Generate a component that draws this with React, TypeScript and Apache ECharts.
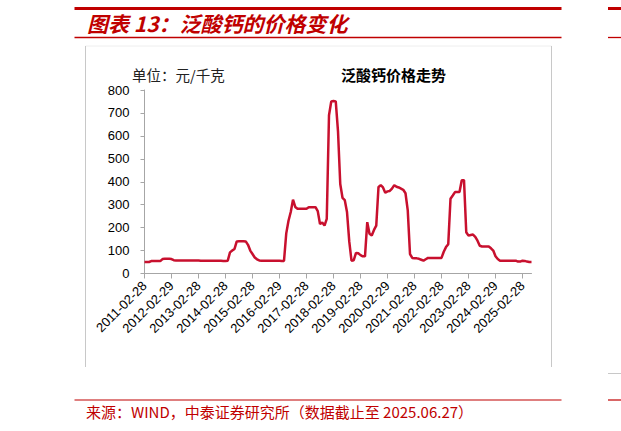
import { useEffect, useRef } from 'react';
import * as echarts from 'echarts';

// 泛酸钙价格（元/千克），月度，2011-02 至 2025-06
const price2011 = [50, 50, 50, 54, 54, 54, 54, 54, 63, 64, 64];
const price2012 = [64, 63, 58, 57, 57, 57, 57, 57, 57, 57, 57, 57];
const price2013 = [57, 57, 56, 56, 56, 56, 56, 56, 56, 56, 56, 56];
const price2014 = [55, 55, 56, 92, 100, 107, 140, 141, 141, 141, 140, 125];
const price2015 = [100, 85, 70, 62, 57, 56, 56, 56, 56, 56, 56, 56];
const price2016 = [56, 56, 55, 55, 175, 230, 268, 322, 290, 282, 282, 282];
const price2017 = [282, 282, 289, 289, 289, 289, 272, 216, 222, 209, 238, 690];
const price2018 = [750, 752, 750, 620, 390, 330, 320, 268, 140, 56, 58, 90];
const price2019 = [88, 80, 75, 75, 224, 173, 166, 190, 209, 377, 385, 375];
const price2020 = [352, 358, 360, 370, 385, 378, 375, 370, 365, 350, 275, 85];
const price2021 = [68, 67, 66, 64, 60, 56, 62, 68, 68, 68, 68, 68];
const price2022 = [68, 68, 95, 115, 128, 326, 340, 355, 355, 355, 407, 407];
const price2023 = [180, 165, 168, 170, 160, 143, 121, 118, 118, 118, 118, 110];
const price2024 = [100, 75, 63, 56, 56, 56, 56, 56, 56, 56, 56, 52];
const price2025 = [52, 56, 55, 52, 50, 50];

const tickLabels = [
  '2011-02-28', '2012-02-29', '2013-02-28', '2014-02-28', '2015-02-28',
  '2016-02-29', '2017-02-28', '2018-02-28', '2019-02-28', '2020-02-29',
  '2021-02-28', '2022-02-28', '2023-02-28', '2024-02-29', '2025-02-28',
];

const yTicks = [0, 100, 200, 300, 400, 500, 600, 700, 800];

const prices = [
  ...price2011, ...price2012, ...price2013, ...price2014, ...price2015,
  ...price2016, ...price2017, ...price2018, ...price2019, ...price2020,
  ...price2021, ...price2022, ...price2023, ...price2024, ...price2025,
];

// one category per month, starting 2011-02
const months = prices.map((_, i) => {
  const total = 2011 * 12 + 1 + i;
  const y = Math.floor(total / 12);
  const m = (total % 12) + 1;
  return `${y}-${String(m).padStart(2, '0')}`;
});

const RED = '#c00000';
const CJK = '"Noto Sans CJK SC", sans-serif';

export default function App() {
  const chartRef = useRef(null);

  useEffect(() => {
    const chart = echarts.init(chartRef.current, null, { renderer: 'svg' });
    const option = {
      animation: false,
      backgroundColor: '#fff',
      grid: { left: 144.5, right: 89.5, top: 90, bottom: 157.5 },
      xAxis: {
        type: 'category',
        data: months,
        boundaryGap: false,
        axisLine: { lineStyle: { color: '#a6a6a6', width: 1 } },
        axisTick: { interval: 11, length: 5, lineStyle: { color: '#a6a6a6' } },
        axisLabel: {
          interval: 11,
          rotate: 45,
          margin: 10,
          fontSize: 13,
          color: '#000',
          fontFamily: '"Liberation Sans", Arial',
          formatter: (_: string, idx: number) => tickLabels[idx / 12] ?? '',
        },
        splitLine: { show: false },
      },
      yAxis: {
        type: 'value',
        min: yTicks[0],
        max: yTicks[yTicks.length - 1],
        interval: 100,
        axisLine: { show: true, lineStyle: { color: '#a6a6a6', width: 1 } },
        axisTick: { show: true, length: 4, lineStyle: { color: '#a6a6a6' } },
        axisLabel: {
          margin: 15,
          fontSize: 13,
          color: '#000',
          fontFamily: '"Liberation Sans", Arial',
        },
        splitLine: { show: false },
      },
      series: [
        {
          name: '泛酸钙',
          type: 'line',
          data: prices,
          symbol: 'none',
          lineStyle: { color: '#c8102e', width: 2.5 },
        },
      ],
      graphic: [
        { type: 'rect', shape: { x: 74.5, y: 7, width: 487, height: 3 }, style: { fill: RED } },
        { type: 'rect', shape: { x: 608, y: 7, width: 13, height: 3 }, style: { fill: RED } },
        {
          type: 'text',
          x: 87,
          y: 23,
          style: {
            text: '图表 13：泛酸钙的价格变化',
            fill: RED,
            font: `italic bold 21px ${CJK}`,
            verticalAlign: 'middle',
          },
        },
        { type: 'line', shape: { x1: 74.5, y1: 37.5, x2: 561.5, y2: 37.5 }, style: { stroke: RED, lineWidth: 1.3 } },
        { type: 'line', shape: { x1: 608, y1: 37.5, x2: 621, y2: 37.5 }, style: { stroke: RED, lineWidth: 1.3 } },
        // chart frame
        { type: 'line', shape: { x1: 85.5, y1: 46, x2: 551.5, y2: 46 }, style: { stroke: '#eeeeee', lineWidth: 1 } },
        { type: 'line', shape: { x1: 85.5, y1: 46, x2: 85.5, y2: 367 }, style: { stroke: '#c8c8c8', lineWidth: 1 } },
        { type: 'line', shape: { x1: 551.5, y1: 46, x2: 551.5, y2: 367 }, style: { stroke: '#c8c8c8', lineWidth: 1 } },
        { type: 'line', shape: { x1: 608, y1: 373.5, x2: 621, y2: 373.5 }, style: { stroke: '#c8c8c8', lineWidth: 1 } },
        {
          type: 'text',
          x: 132,
          y: 74,
          style: { text: '单位：元/千克', fill: '#222', font: `14.5px ${CJK}`, verticalAlign: 'middle' },
        },
        {
          type: 'text',
          x: 341,
          y: 74,
          style: { text: '泛酸钙价格走势', fill: '#000', font: `bold 15px ${CJK}`, verticalAlign: 'middle' },
        },
        // footer
        { type: 'line', shape: { x1: 74.5, y1: 400, x2: 561.5, y2: 400 }, style: { stroke: RED, lineWidth: 1.2 } },
        { type: 'line', shape: { x1: 608, y1: 400, x2: 621, y2: 400 }, style: { stroke: RED, lineWidth: 1.2 } },
        {
          type: 'text',
          x: 86,
          y: 411,
          style: {
            text: '来源：WIND，中泰证券研究所（数据截止至 2025.06.27）',
            fill: RED,
            font: `15px ${CJK}`,
            verticalAlign: 'middle',
          },
        },
      ],
    };
    chart.setOption(option);
    return () => {
      chart.dispose();
    };
  }, []);

  return (
    <div
      ref={chartRef}
      style={{ position: 'absolute', left: 0, top: 0, width: '621px', height: '431px' }}
    />
  );
}
